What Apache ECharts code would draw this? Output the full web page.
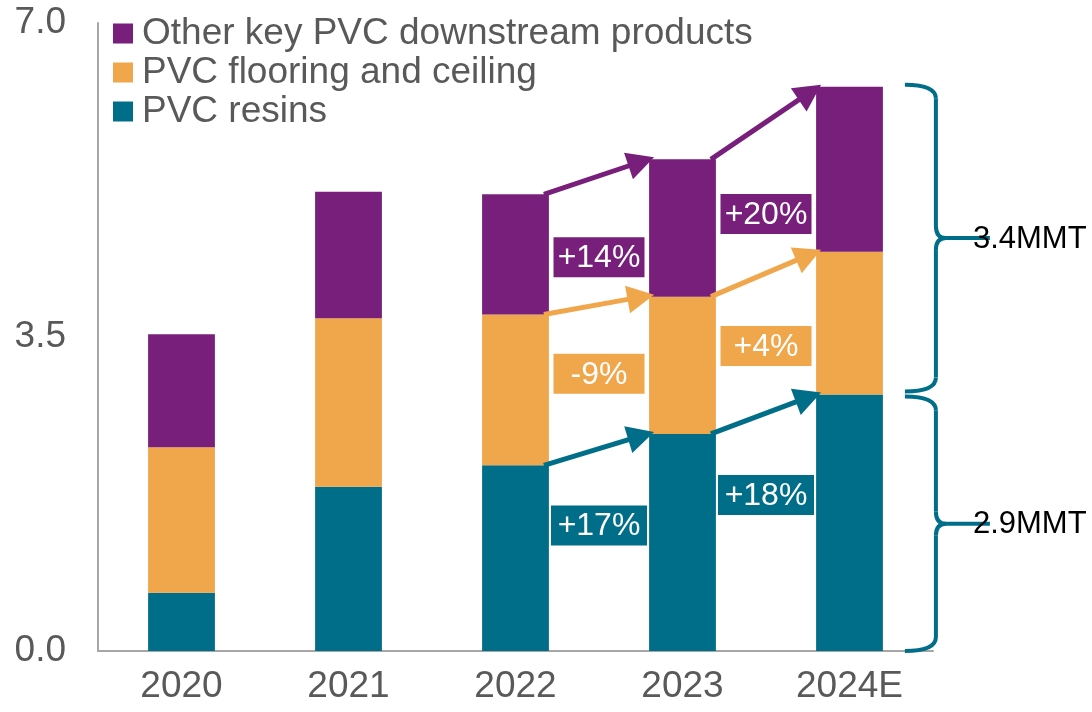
<!DOCTYPE html>
<html>
<head>
<meta charset="utf-8">
<script src="https://cdn.jsdelivr.net/npm/echarts@6/dist/echarts.min.js"></script>
<style>
html, body { margin: 0; padding: 0; background: #fff; }
#main { width: 1092px; height: 712px; }
</style>
</head>
<body>
<div id="main"></div>
<script>
// data (MMT)
var years = ['2020', '2021', '2022', '2023', '2024E'];
var resins = [0.65, 1.83, 2.07, 2.42, 2.86];
var flooring = [1.62, 1.88, 1.68, 1.53, 1.59];
var others = [1.26, 1.41, 1.34, 1.53, 1.84];
var resinGrowth = ['+17%', '+18%'];
var flooringGrowth = ['-9%', '+4%'];
var otherGrowth = ['+14%', '+20%'];
var braceLabels = ['2.9MMT', '3.4MMT'];

var names = ['PVC resins', 'PVC flooring and ceiling', 'Other key PVC downstream products'];
var colors = ['#006E88', '#F0A64B', '#771F7B'];
var FONT = '"Liberation Sans", Arial, sans-serif';

// where the growth tags sit (y in axis units), between 2022-2023 and 2023-2024
var tagY = [[1.40, 1.74], [3.09, 3.40], [4.39, 4.87]];
var tagW = [96, 91, 91];

var chart = echarts.init(document.getElementById('main'));

var option = {
  animation: false,
  textStyle: { fontFamily: FONT },
  grid: { left: 98, right: 159, top: 23, bottom: 61, containLabel: false },
  legend: {
    orient: 'vertical',
    left: 108,
    top: 9,
    icon: 'rect',
    itemWidth: 20,
    itemHeight: 20,
    itemGap: 0,
    data: [names[2], names[1], names[0]],
    textStyle: { fontSize: 37, color: '#595959', lineHeight: 39, padding: [0, 0, 0, 4] }
  },
  xAxis: {
    type: 'category',
    data: years,
    axisLine: { lineStyle: { color: '#A6A6A6', width: 2 } },
    axisTick: { show: false },
    axisLabel: { fontSize: 37, color: '#595959', margin: 17 }
  },
  yAxis: {
    type: 'value',
    min: 0,
    max: 7,
    interval: 3.5,
    axisLine: { show: true, lineStyle: { color: '#A6A6A6', width: 2 } },
    axisTick: { show: false },
    splitLine: { show: false },
    axisLabel: {
      fontSize: 37, color: '#595959', margin: 32,
      formatter: function (v) { return v.toFixed(1); }
    }
  },
  series: [
    { name: names[0], type: 'bar', stack: 'a', barWidth: '40%', data: resins, itemStyle: { color: colors[0] } },
    { name: names[1], type: 'bar', stack: 'a', barWidth: '40%', data: flooring, itemStyle: { color: colors[1] } },
    { name: names[2], type: 'bar', stack: 'a', barWidth: '40%', data: others, itemStyle: { color: colors[2] } }
  ]
};
chart.setOption(option);

function px(i, v) { return chart.convertToPixel({ xAxisIndex: 0, yAxisIndex: 0 }, [i, v]); }

var band = px(1, 0)[0] - px(0, 0)[0];
var half = band * 0.4 / 2;

// stack tops per series
var tops = [[], [], []];
for (var i = 0; i < years.length; i++) {
  tops[0].push(resins[i]);
  tops[1].push(resins[i] + flooring[i]);
  tops[2].push(resins[i] + flooring[i] + others[i]);
}

function arrow(x1, y1, x2, y2, color) {
  var dx = x2 - x1, dy = y2 - y1, len = Math.sqrt(dx * dx + dy * dy);
  var ux = dx / len, uy = dy / len;
  var hl = 27, hw = 14;
  var bx = x2 - ux * hl, by = y2 - uy * hl;
  return [
    { type: 'line', z: 10, shape: { x1: x1, y1: y1, x2: bx + ux * 3, y2: by + uy * 3 }, style: { stroke: color, lineWidth: 5 } },
    { type: 'polygon', z: 10, shape: { points: [[x2, y2], [bx - uy * hw, by + ux * hw], [bx + uy * hw, by - ux * hw]] }, style: { fill: color } }
  ];
}

function tag(cx, cy, w, text, color) {
  return [
    { type: 'rect', z: 11, shape: { x: cx - w / 2, y: cy - 20, width: w, height: 40 }, style: { fill: color } },
    { type: 'text', z: 12, x: cx, y: cy + 1, style: { text: text, fill: '#fff', font: '32px ' + FONT, textAlign: 'center', textVerticalAlign: 'middle', align: 'center', verticalAlign: 'middle' } }
  ];
}

var els = [];
var growth = [resinGrowth, flooringGrowth, otherGrowth];
for (var s = 0; s < 3; s++) {
  for (var k = 0; k < 2; k++) {
    var a = 2 + k, b = 3 + k;
    var p1 = px(a, tops[s][a]), p2 = px(b, tops[s][b]);
    els = els.concat(arrow(p1[0] + half - 5, p1[1], p2[0] - half + 5, p2[1] - 2, colors[s]));
    var cx = (p1[0] + p2[0]) / 2;
    var cy = px(a, tagY[s][k])[1];
    els = els.concat(tag(cx, cy, tagW[s], growth[s][k], colors[s]));
  }
}

// braces on the right of the 2024E bar
var last = years.length - 1;
var x0 = px(last, 0)[0] + half + 22;
var xv = x0 + 31, xm = x0 + 85;
function seg(x1, y1, x2, y2) {
  return { type: 'line', z: 10, shape: { x1: x1, y1: y1, x2: x2, y2: y2 }, style: { stroke: colors[0], lineWidth: 4 } };
}
function curve(x1, y1, cx, cy, x2, y2) {
  return { type: 'bezierCurve', z: 10, shape: { x1: x1, y1: y1, cpx1: cx, cpy1: cy, x2: x2, y2: y2 }, style: { stroke: colors[0], lineWidth: 4, fill: null } };
}
function brace(yT, yB, label) {
  var ym = (yT + yB) / 2;
  return [
    curve(x0, yT, xv, yT, xv, yT + 14),
    seg(xv, yT + 14, xv, ym - 12),
    curve(xv, ym - 12, xv, ym, xv + 10, ym),
    seg(xv + 10, ym, xm, ym),
    curve(xv + 10, ym, xv, ym, xv, ym + 12),
    seg(xv, ym + 12, xv, yB - 14),
    curve(xv, yB - 14, xv, yB, x0, yB),
    { type: 'text', z: 12, x: x0 + 68, y: ym + 1, style: { text: label, fill: '#000', font: '31px ' + FONT, textVerticalAlign: 'middle', verticalAlign: 'middle' } }
  ];
}
var yBase = px(last, 0)[1];
var yRes = px(last, tops[0][last])[1];
var yAll = px(last, tops[2][last])[1];
els = els.concat(brace(yRes + 2, yBase, braceLabels[0]));
els = els.concat(brace(yAll - 2, yRes - 3, braceLabels[1]));

chart.setOption({ graphic: { elements: els } });
</script>
</body>
</html>
